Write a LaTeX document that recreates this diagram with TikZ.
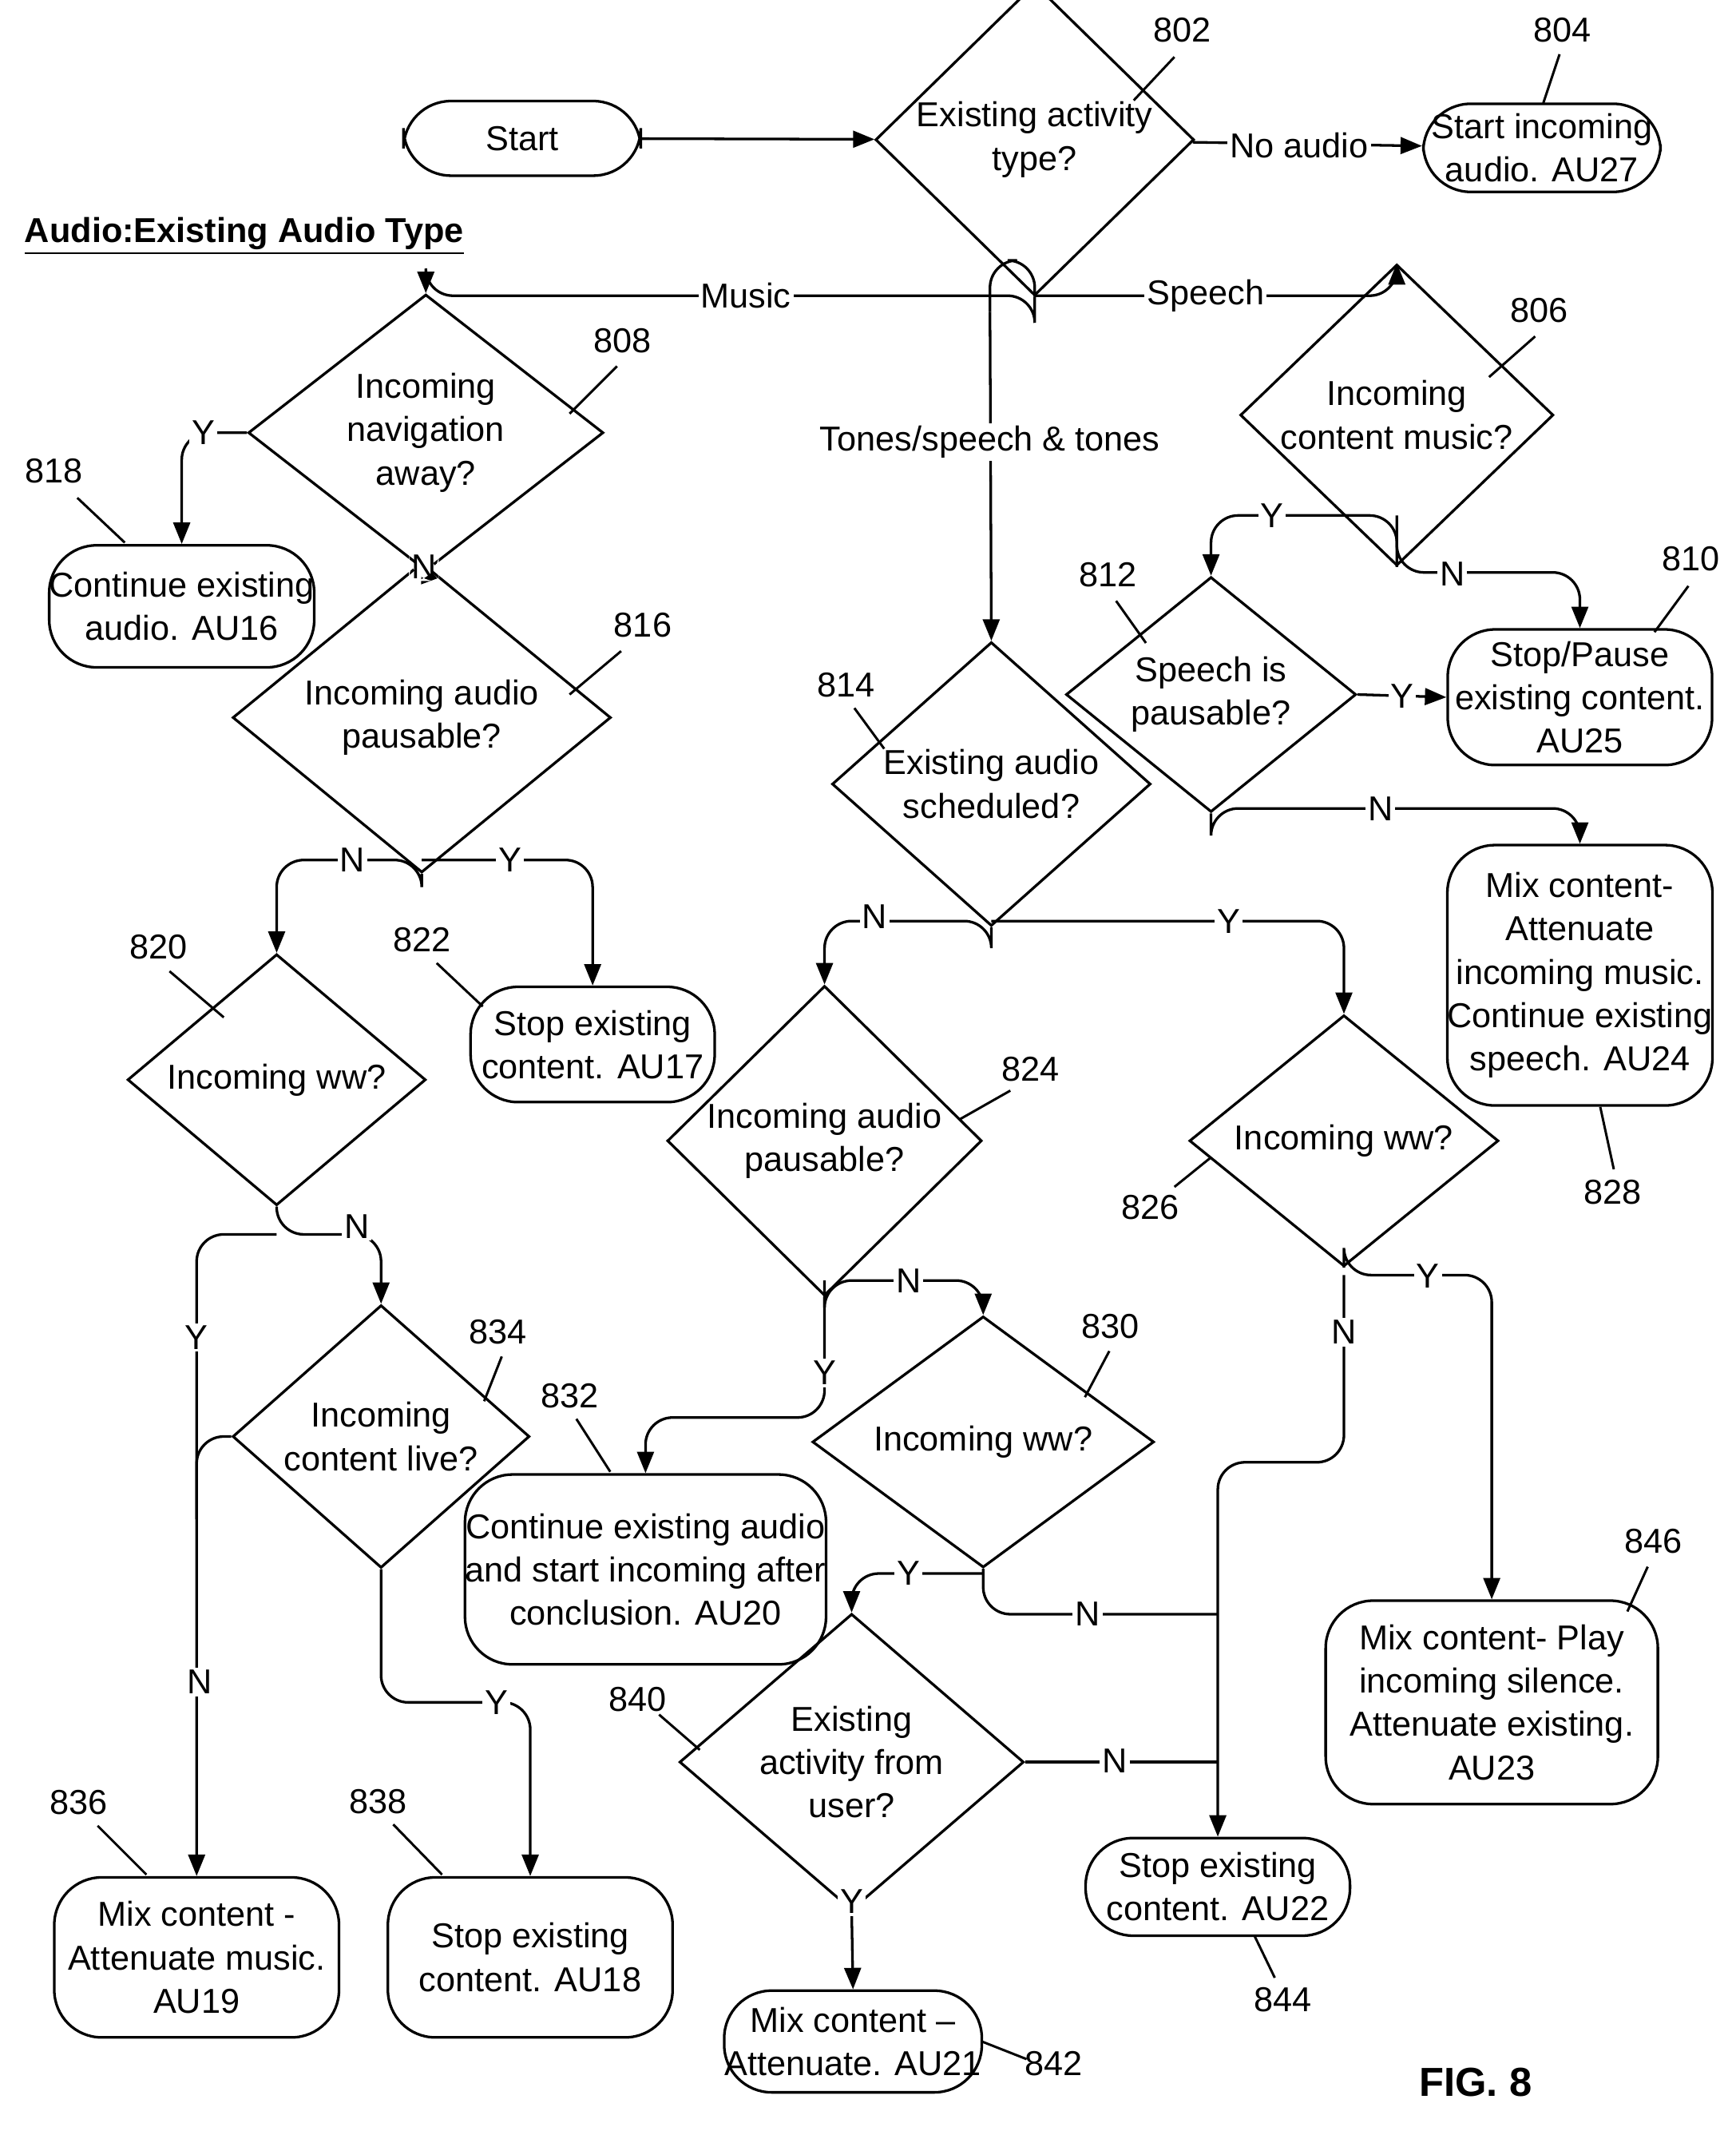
\documentclass[tikz,border=0pt]{standalone}
\usepackage{fontspec}
\setmainfont{Liberation Sans}
\usetikzlibrary{shapes.geometric,arrows.meta}
\tikzset{
  box/.style={draw,line width=1.1pt,rounded corners=0.7cm,align=center,inner sep=0pt},
  dia/.style={draw,diamond,line width=1.1pt,align=center,inner sep=0pt},
  arr/.style={line width=1.1pt,rounded corners=0.4cm,-{Triangle[length=9pt,width=7pt]}},
  ln/.style={line width=1.1pt,rounded corners=0.4cm},
  lbl/.style={fill=white,inner sep=1pt},
  lead/.style={line width=1pt}
}
\begin{document}
\begin{tikzpicture}[x=0.02cm,y=-0.02cm,font=\fontsize{14.5}{18.2}\selectfont]
\useasboundingbox (0,0) rectangle (1280,1571);
% nodes
\node[box,minimum width=3.5cm,minimum height=1.1cm] (start) at (385,102) {Start};
\node[dia,minimum width=4.7cm,minimum height=2.9cm] (n802) at (763,103) {Existing activity\\type?};
\node[box,minimum width=3.5cm,minimum height=1.3cm] (n804) at (1137,109) {Start incoming\\audio. AU27};
\node[font=\fontsize{14.5}{18.2}\selectfont\bfseries,anchor=west] (title) at (12,174) {\underline{Audio:Existing Audio Type}};
\node[dia,minimum width=5.24cm,minimum height=3.24cm] (n808) at (314,319) {Incoming\\navigation\\away?};
\node[box,minimum width=3.9cm,minimum height=1.8cm] (n818) at (134,447) {Continue existing\\audio. AU16};
\node[dia,minimum width=5.58cm,minimum height=2.86cm] (n816) at (311,529) {Incoming audio\\pausable?};
\node[dia,minimum width=4.62cm,minimum height=2.66cm] (n806) at (1030,306) {Incoming\\content music?};
\node[dia,minimum width=4.28cm,minimum height=2.62cm] (n812) at (893,512) {Speech is\\pausable?};
\node[box,minimum width=3.9cm,minimum height=2cm] (n810) at (1165,514) {Stop/Pause\\existing content.\\AU25};
\node[box,minimum width=3.9cm,minimum height=3.84cm] (n828) at (1165,719) {Mix content-\\Attenuate\\incoming music.\\Continue existing\\speech. AU24};
\node[dia,minimum width=4.7cm,minimum height=2.7cm] (n814) at (731,578) {Existing audio\\scheduled?};
\node[dia,minimum width=4.4cm,minimum height=2.68cm] (n820) at (204,796) {Incoming ww?};
\node[box,minimum width=3.6cm,minimum height=1.7cm] (n822) at (437,770) {Stop existing\\content. AU17};
\node[dia,minimum width=4.64cm,minimum height=2.8cm] (n824) at (608,841) {Incoming audio\\pausable?};
\node[dia,minimum width=4.56cm,minimum height=2.84cm] (n826) at (991,841) {Incoming ww?};
\node[dia,minimum width=4.38cm,minimum height=2.68cm] (n834) at (281,1059) {Incoming\\content live?};
\node[dia,minimum width=5.04cm,minimum height=3.1cm] (n830) at (725,1063) {Incoming ww?};
\node[box,minimum width=5.2cm,minimum height=2.8cm] (n832) at (476,1157) {Continue existing audio\\and start incoming after\\conclusion. AU20};
\node[box,minimum width=4.9cm,minimum height=3cm] (n846) at (1100,1255) {Mix content- Play\\incoming silence.\\Attenuate existing.\\AU23};
\node[dia,minimum width=5.08cm,minimum height=3.08cm] (n840) at (628,1299) {Existing\\activity from\\user?};
\node[box,minimum width=3.9cm,minimum height=1.44cm] (n844) at (898,1391) {Stop existing\\content. AU22};
\node[box,minimum width=4.2cm,minimum height=2.36cm] (n836) at (145,1443) {Mix content -\\Attenuate music.\\AU19};
\node[box,minimum width=4.2cm,minimum height=2.36cm] (n838) at (391,1443) {Stop existing\\content. AU18};
\node[box,minimum width=3.8cm,minimum height=1.5cm] (n842) at (629,1505) {Mix content --\\Attenuate. AU21};
\node[font=\fontsize{17}{20}\selectfont\bfseries] (fig) at (1088,1535) {FIG. 8};
% connectors
\draw[arr] (start) -- (n802);
\draw[arr] (n802) -- (n804);
\node[lbl] at (958,107) {No audio};
\draw[ln] (n802.south) -- (763,192) -- (730,192) -- (730,230);
\draw[arr] (730,230) -- (n814.north);
\draw[arr] (n802.south) -- (763,218) -| (n808.north);
\draw[arr] (763,218) -| (n806.north);
\node[lbl] at (550,218) {Music};
\node[lbl] at (889,218) {Speech};
\node[lbl] at (730,326) {Tones/\\speech \& tones};
\draw[arr] (n808.west) -| (n818.north);
\node[lbl] at (150,319) {Y};
\draw[arr] (n808.south) -- node[lbl]{N} (n816.north);
\draw[arr] (n816.south) -- (311,634) -| (n820.north);
\draw[arr] (311,634) -| (n822.north);
\node[lbl] at (260,634) {N};
\node[lbl] at (376,634) {Y};
\draw[arr] (n806.south) -- (1030,380) -| (n812.north);
\draw[arr] (1030,380) |- (1100,422) -| (n810.north);
\node[lbl] at (938,380) {Y};
\node[lbl] at (1071,423) {N};
\draw[arr] (n812.east) -- (n810.west);
\node[lbl] at (1034,513) {Y};
\draw[arr] (n812.south) |- (1000,596) -| (n828.north);
\node[lbl] at (1018,596) {N};
\draw[arr] (n814.south) -- (731,679) -| (n824.north);
\draw[arr] (731,679) -| (n826.north);
\node[lbl] at (645,676) {N};
\node[lbl] at (906,679) {Y};
\draw[arr] (n820.south) -- (204,910) -| (n834.north);
\draw[arr] (204,910) -| (n836.north);
\draw[ln] (n834.west) -- (145,1059) -- (145,1120);
\node[lbl] at (145,986) {Y};
\node[lbl] at (147,1240) {N};
\node[lbl] at (263,904) {N};
\draw[arr] (n834.south) |- (330,1255) -| (n838.north);
\node[lbl] at (366,1255) {Y};
\draw[arr] (n824.south) -- (608,944) -| (n830.north);
\draw[arr] (608,944) |- (540,1045) -| (n832.north);
\node[lbl] at (670,944) {N};
\node[lbl] at (608,1012) {Y};
\draw[arr] (n826.south) -- (991,940) -| (n846.north);
\draw[arr] (991,940) |- (940,1078) -| (n844.north);
\node[lbl] at (1053,941) {Y};
\node[lbl] at (991,982) {N};
\draw[ln] (n830.south) |- (898,1190);
\draw[arr] (725,1160) -| (n840.north);
\node[lbl] at (802,1190) {N};
\node[lbl] at (670,1160) {Y};
\draw[ln] (n840.east) -- (898,1299);
\node[lbl] at (822,1298) {N};
\draw[arr] (n840.south) -- (n842.north);
\node[lbl] at (628,1402) {Y};
% reference numbers
\draw[lead] (836,74) -- (866,42); \node at (872,22) {802};
\draw[lead] (1138,76) -- (1150,40); \node at (1152,22) {804};
\draw[lead] (420,305) -- (455,270); \node at (459,251) {808};
\draw[lead] (57,367) -- (92,400); \node at (40,347) {818};
\draw[lead] (420,512) -- (458,480); \node at (474,461) {816};
\draw[lead] (1098,278) -- (1132,248); \node at (1135,229) {806};
\draw[lead] (823,443) -- (845,474); \node at (817,424) {812};
\draw[lead] (1220,466) -- (1245,432); \node at (1247,412) {810};
\draw[lead] (630,522) -- (652,552); \node at (624,505) {814};
\draw[lead] (125,716) -- (165,750); \node at (117,698) {820};
\draw[lead] (322,710) -- (356,742); \node at (311,693) {822};
\draw[lead] (708,825) -- (745,804); \node at (760,788) {824};
\draw[lead] (866,875) -- (892,854); \node at (848,890) {826};
\draw[lead] (1180,816) -- (1190,862); \node at (1189,879) {828};
\draw[lead] (357,1033) -- (370,1000); \node at (367,982) {834};
\draw[lead] (800,1030) -- (818,996); \node at (819,978) {830};
\draw[lead] (425,1046) -- (450,1085); \node at (420,1029) {832};
\draw[lead] (1200,1188) -- (1215,1155); \node at (1219,1136) {846};
\draw[lead] (486,1264) -- (516,1290); \node at (470,1253) {840};
\draw[lead] (925,1427) -- (940,1458); \node at (946,1474) {844};
\draw[lead] (72,1346) -- (108,1382); \node at (58,1329) {836};
\draw[lead] (290,1345) -- (326,1382); \node at (279,1328) {838};
\draw[lead] (724,1505) -- (757,1518); \node at (777,1521) {842};
\end{tikzpicture}
\end{document}
